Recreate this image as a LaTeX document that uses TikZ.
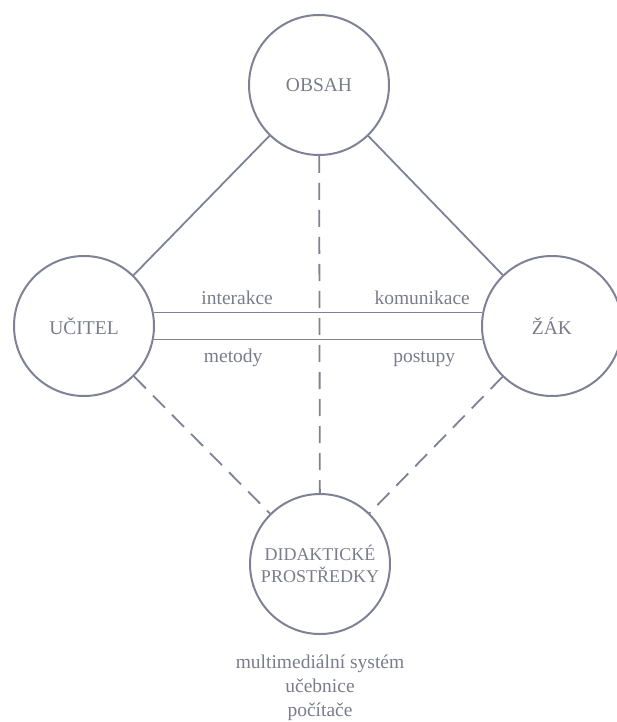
\documentclass[tikz,border=0pt]{standalone}
\usepackage{fontspec}
\setmainfont{Liberation Serif}
\usepackage{tikz}
\usetikzlibrary{calc}
\definecolor{linegray}{RGB}{126,130,148}
\definecolor{textgray}{RGB}{122,124,140}
\tikzset{
% Two styles for the diagram: circle nodes and dashed links
topic node/.style={circle,draw=linegray,line width=2pt,minimum size=140pt,inner sep=2pt,
  text=textgray,font=\fontsize{19.5}{23}\selectfont},
dashed link/.style={draw=linegray,line width=1.8pt,dash pattern=on 17pt off 10pt},
solid link/.style={draw=linegray,line width=1.8pt}
}

\begin{document}
\begin{tikzpicture}[x=1pt,y=-1pt]
      \useasboundingbox (0,0) rectangle (617,722);
      % The four circles
      \node(obsah)[topic node] at (319,85) {OBSAH};
      \node(ucitel)[topic node] at (84,326) {UČITEL};
      \node(zak)[topic node] at (552,326) {ŽÁK};
      \node(prostredky)[topic node,font=\fontsize{18}{22}\selectfont,align=center,
        label={[label distance=20pt,inner sep=0pt,text=textgray,align=center,
          font=\fontsize{19.5}{24}\selectfont]below:{multimediální systém\\učebnice\\počítače}}]
        at (320,564) {DIDAKTICKÉ\\PROSTŘEDKY};
      % solid edges from the content
      \draw[solid link] (obsah) -- (ucitel);
      \draw[solid link] (obsah) -- (zak);
      % double link between teacher and pupil
      \draw[solid link] (ucitel.11) --
        node[pos=.254,anchor=base,yshift=8pt,text=textgray,font=\fontsize{19.5}{23}\selectfont]{interakce}
        node[pos=.817,anchor=base,yshift=8pt,text=textgray,font=\fontsize{19.5}{23}\selectfont]{komunikace}
        (zak.169);
      \draw[solid link] (ucitel.-11) --
        node[pos=.242,anchor=base,yshift=-23pt,text=textgray,font=\fontsize{19.5}{23}\selectfont]{metody}
        node[pos=.823,anchor=base,yshift=-23pt,text=textgray,font=\fontsize{19.5}{23}\selectfont]{postupy}
        (zak.-169);
      % dashed edges to the means
      \draw[dashed link] (obsah) -- (prostredky);
      \draw[dashed link] (ucitel) -- (prostredky);
      \draw[dashed link] (zak) -- (prostredky);
\end{tikzpicture}
\end{document}
